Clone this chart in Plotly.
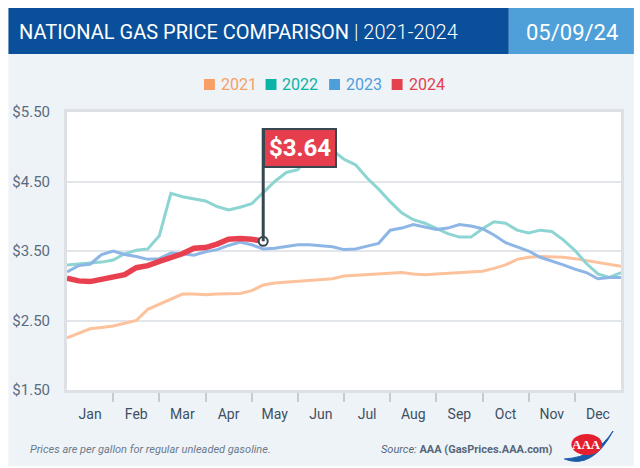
import plotly.graph_objects as go

W, H = 640, 468
L, R, T, B = 63, 19, 112, 78

months = ["Jan", "Feb", "Mar", "Apr", "May", "Jun",
          "Jul", "Aug", "Sep", "Oct", "Nov", "Dec"]
years = ["2021", "2022", "2023", "2024"]

# sample positions, in months from Jan 1, every quarter month
pos = [i / 4 for i in range(49)]

p2021 = [2.25, 2.31, 2.38, 2.40, 2.42, 2.46, 2.50, 2.66, 2.73, 2.81, 2.88, 2.88,
         2.87, 2.88, 2.88, 2.89, 2.93, 3.01, 3.04, 3.05, 3.06, 3.07, 3.08, 3.10,
         3.14, 3.15, 3.16, 3.17, 3.18, 3.19, 3.17, 3.16, 3.17, 3.18, 3.19, 3.19,
         3.21, 3.25, 3.30, 3.38, 3.41, 3.42, 3.42, 3.41, 3.39, 3.36, 3.33, 3.30, 3.28]
p2022 = [3.30, 3.31, 3.32, 3.34, 3.37, 3.46, 3.51, 3.53, 3.72, 4.33, 4.28, 4.25,
         4.22, 4.14, 4.09, 4.13, 4.18, 4.34, 4.50, 4.63, 4.67, 4.88, 5.00, 4.95,
         4.82, 4.74, 4.55, 4.39, 4.21, 4.05, 3.95, 3.90, 3.83, 3.75, 3.70, 3.70,
         3.82, 3.92, 3.90, 3.80, 3.76, 3.80, 3.78, 3.66, 3.51, 3.32, 3.17, 3.12, 3.19]
p2023 = [3.20, 3.29, 3.31, 3.45, 3.50, 3.45, 3.42, 3.38, 3.39, 3.47, 3.46, 3.44,
         3.49, 3.52, 3.58, 3.63, 3.59, 3.53, 3.54, 3.57, 3.59, 3.59, 3.57, 3.56,
         3.52, 3.53, 3.57, 3.61, 3.80, 3.83, 3.88, 3.84, 3.81, 3.83, 3.88, 3.86,
         3.82, 3.73, 3.62, 3.56, 3.50, 3.41, 3.36, 3.30, 3.24, 3.19, 3.10, 3.12, 3.12]
p2024 = [3.11, 3.07, 3.06, 3.09, 3.13, 3.16, 3.26, 3.29, 3.35, 3.40, 3.46, 3.54,
         3.55, 3.60, 3.67, 3.68, 3.67, 3.64]

line_colors = ["#FDC29C", "#8DD5D2", "#8DB6E6", "#E8404F"]
key_colors = ["#F6A068", "#0BB2A6", "#4E9ED9", "#E5404D"]
widths = [3, 3, 3, 5.5]

FONT = "Roboto"


def fx(px):
    return (px - L) / (W - L - R)


def fy(py):
    return (H - B - py) / (H - T - B)


fig = go.Figure()
for name, vals, c, w in zip(years, [p2021, p2022, p2023, p2024], line_colors, widths):
    fig.add_trace(go.Scatter(x=pos[:len(vals)], y=vals, mode="lines", name=name,
                             line=dict(color=c, width=w), showlegend=False,
                             hoverinfo="skip"))

# end point of 2024 with flag
last_x = pos[len(p2024) - 1]
fig.add_trace(go.Scatter(x=[last_x], y=[p2024[-1]], mode="markers",
                         marker=dict(color="white", size=9,
                                     line=dict(color="#37474F", width=2)),
                         showlegend=False, hoverinfo="skip"))

flag_top = 5.27
shapes = [
    dict(type="rect", xref="paper", yref="paper", x0=fx(4), x1=fx(634), y0=fy(466), y1=fy(54),
         fillcolor="#EEF3F8", line_width=0, layer="below"),
    dict(type="rect", xref="paper", yref="paper", x0=0, x1=1, y0=0, y1=1,
         fillcolor="white", line_width=0, layer="below"),
    dict(type="rect", xref="paper", yref="paper", x0=fx(4), x1=fx(508), y0=fy(54), y1=fy(8),
         fillcolor="#0A4F99", line_width=0, layer="below"),
    dict(type="rect", xref="paper", yref="paper", x0=fx(508), x1=fx(634), y0=fy(54), y1=fy(8),
         fillcolor="#4FA0D9", line_width=0, layer="below"),
    dict(type="line", x0=last_x, x1=last_x, y0=p2024[-1], y1=flag_top,
         line=dict(color="#37474F", width=3)),
    # AAA logo
    dict(type="path", xref="paper", yref="paper",
         path=f"M {fx(564)} {fy(459)} Q {fx(592)} {fy(470)} {fx(613)} {fy(431)} "
              f"Q {fx(596)} {fy(457)} {fx(564)} {fy(459)} Z",
         fillcolor="#1A5BA8", line=dict(color="#1A5BA8", width=1)),
    dict(type="circle", xref="paper", yref="paper", x0=fx(571), x1=fx(602), y0=fy(455), y1=fy(434),
         fillcolor="#E5202E", line_width=0),
]

# legend keys
key_x = [201, 263, 327, 390]
annotations = []
for yr, kx, kc in zip(years, key_x, key_colors):
    shapes.append(dict(type="rect", xref="paper", yref="paper", x0=fx(kx), x1=fx(kx + 11),
                       y0=fy(90), y1=fy(79), fillcolor=kc, line_width=0))
    annotations.append(dict(xref="paper", yref="paper", x=fx(kx + 15), y=fy(84.5), text=yr,
                            showarrow=False, xanchor="left", yanchor="middle",
                            font=dict(family=FONT, size=16, color=kc)))

annotations += [
    dict(xref="paper", yref="paper", x=fx(13), y=fy(32),
         text="NATIONAL GAS PRICE COMPARISON <span style='font-weight:300'>| 2021-2024</span>",
         showarrow=False, xanchor="left", yanchor="middle",
         font=dict(family=FONT, size=20, color="white")),
    dict(xref="paper", yref="paper", x=fx(572), y=fy(32), text="05/09/24",
         showarrow=False, xanchor="center", yanchor="middle",
         font=dict(family=FONT, size=22, color="white")),
    dict(x=last_x, y=flag_top, text="<b>$3.64</b>", showarrow=False,
         xanchor="left", yanchor="top", bgcolor="#E63E4D", bordercolor="#37474F",
         borderwidth=2, borderpad=4, font=dict(family=FONT, size=24, color="white")),
    dict(xref="paper", yref="paper", x=fx(24), y=fy(449),
         text="<i>Prices are per gallon for regular unleaded gasoline.</i>",
         showarrow=False, xanchor="left", yanchor="middle",
         font=dict(family=FONT, size=11, color="#6B7A8A")),
    dict(xref="paper", yref="paper", x=fx(555), y=fy(449),
         text="<i>Source:</i> <b>AAA (GasPrices.AAA.com)</b>",
         showarrow=False, xanchor="right", yanchor="middle",
         font=dict(family=FONT, size=11, color="#56677A")),
    dict(xref="paper", yref="paper", x=fx(586.5), y=fy(444.5), text="<b>AAA</b>",
         showarrow=False, xanchor="center", yanchor="middle",
         font=dict(family="Liberation Serif", size=13, color="white")),
]

fig.update_layout(
    width=W, height=H,
    margin=dict(l=L, r=R, t=T, b=B),
    paper_bgcolor="white", plot_bgcolor="white",
    shapes=shapes, annotations=annotations,
    showlegend=False,
    xaxis=dict(range=[0, 12], tickvals=[i + 0.5 for i in range(12)], ticktext=months,
               ticks="", showgrid=False, zeroline=False,
               showline=True, linecolor="#DDE1E5", linewidth=3, mirror=True,
               tickfont=dict(family=FONT, size=14, color="#3E4F61"),
               ticklabelstandoff=9,
               minor=dict(tickvals=list(range(1, 12)), ticks="outside", ticklen=9,
                          tickwidth=2, tickcolor="#C5CBD2")),
    yaxis=dict(range=[1.5, 5.5], dtick=1, tick0=1.5, tickformat="$.2f",
               showgrid=True, gridcolor="#E2E5EA", gridwidth=2, zeroline=False,
               showline=True, linecolor="#DDE1E5", linewidth=3, mirror=True,
               tickfont=dict(family=FONT, size=15, color="#5A6B7C"),
               ticklabelstandoff=11),
)

# the page keeps its default body margin otherwise
fig.write_html("out.html", config={"displayModeBar": False},
               post_script="document.body.style.margin='0px';")
